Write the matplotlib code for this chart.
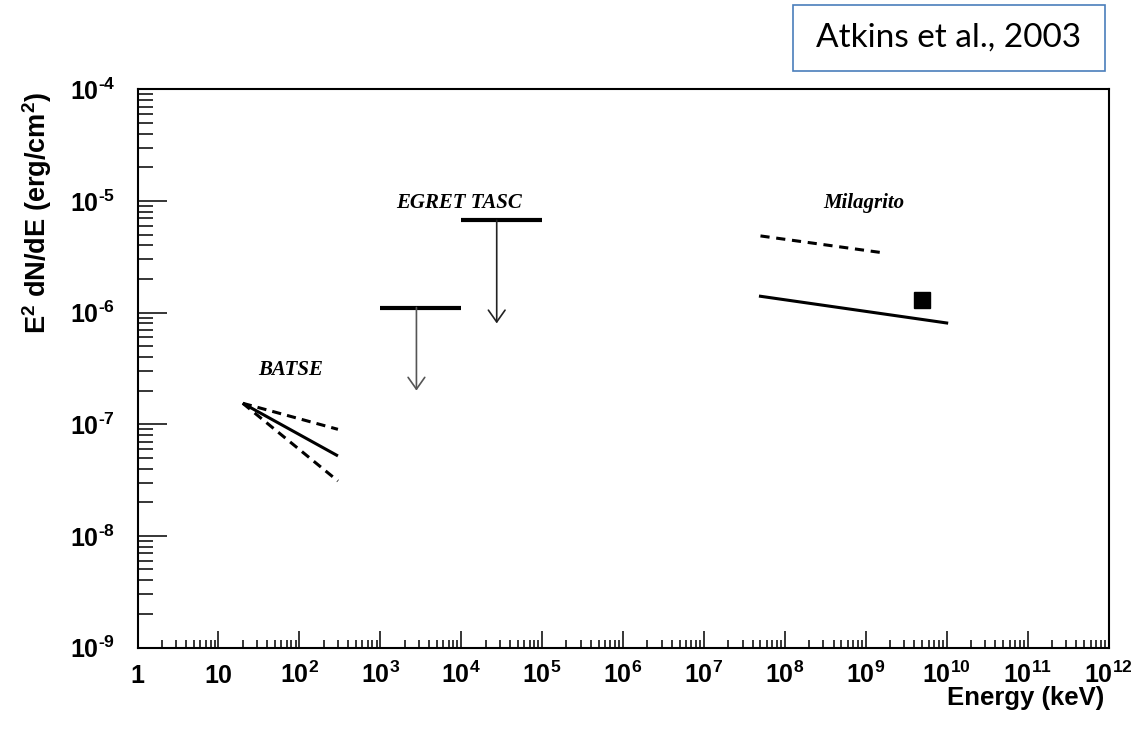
import matplotlib
matplotlib.use("Agg")
import matplotlib.pyplot as plt
from matplotlib.patches import Rectangle
from matplotlib.ticker import LogLocator, NullFormatter, FixedLocator, FixedFormatter

plt.rcParams['font.family'] = ['Liberation Sans', 'DejaVu Sans']
plt.rcParams['font.weight'] = 'bold'
plt.rcParams['mathtext.fontset'] = 'custom'
plt.rcParams['mathtext.rm'] = 'Liberation Sans:bold'
plt.rcParams['mathtext.it'] = 'Liberation Sans:bold:italic'
plt.rcParams['mathtext.bf'] = 'Liberation Sans:bold'
plt.rcParams['mathtext.default'] = 'rm'

# ---------------- data ----------------
batse_E = [20, 300]
batse_best = [1.54e-7, 5.2e-8]
batse_upper = [1.54e-7, 9.0e-8]
batse_lower = [1.54e-7, 3.1e-8]

egret_Emin = [1e3, 1e4]
egret_Emax = [1e4, 1e5]
egret_limit = [1.11e-6, 6.7e-6]
egret_arrow_E = [2.8e3, 2.75e4]
egret_arrow_end = [2.0e-7, 8.0e-7]

milagrito_E_dashed = [5.0e7, 1.69e9]
milagrito_dashed = [4.86e-6, 3.42e-6]
milagrito_E_solid = [5.0e7, 1.0e10]
milagrito_solid = [1.40e-6, 8.07e-7]
milagrito_point_E = [5.0e9]
milagrito_point = [1.29e-6]

x_exponents = list(range(0, 13))
x_ticklabels = ['1', '10'] + ['$10^{%d}$' % k for k in range(2, 13)]
y_exponents = list(range(-9, -3))
y_ticklabels = [r'$10^{\text{-}%d}$' % (-k) for k in y_exponents]

# ---------------- figure ----------------
W, H = 1132, 731
fig = plt.figure(figsize=(W / 100, H / 100), dpi=100)
ax = fig.add_axes([137.5 / W, 1 - 647.5 / H, (1108.5 - 137.5) / W, (647.5 - 89.3) / H])
ax.set_xscale('log')
ax.set_yscale('log')
ax.set_xlim(1, 1e12)
ax.set_ylim(1e-9, 1e-4)

for s in ax.spines.values():
    s.set_linewidth(1.5)

ax.xaxis.set_major_locator(FixedLocator([10.0 ** k for k in x_exponents]))
ax.xaxis.set_major_formatter(FixedFormatter(x_ticklabels))
ax.yaxis.set_major_locator(FixedLocator([10.0 ** k for k in y_exponents]))
ax.yaxis.set_major_formatter(FixedFormatter(y_ticklabels))
ax.xaxis.set_minor_locator(LogLocator(base=10, subs=range(2, 10), numticks=100))
ax.yaxis.set_minor_locator(LogLocator(base=10, subs=range(2, 10), numticks=100))
ax.xaxis.set_minor_formatter(NullFormatter())
ax.yaxis.set_minor_formatter(NullFormatter())

ax.tick_params(axis='x', which='major', direction='in', length=12, width=1.1,
               labelsize=18, pad=25.8, top=False)
ax.tick_params(axis='x', which='minor', direction='in', length=5.5, width=1.1, top=False)
ax.tick_params(axis='y', which='major', direction='in', length=21, width=1.1,
               labelsize=18, pad=16, right=False)
ax.tick_params(axis='y', which='minor', direction='in', length=10.8, width=1.1, right=False)

for t in ax.xaxis.get_major_ticks():
    t.label1.set_verticalalignment('baseline')

# BATSE
ax.plot(batse_E, batse_best, color='black', lw=2.2, solid_capstyle='butt')
ax.plot(batse_E, batse_upper, color='black', lw=2.2, dashes=(3, 2))
ax.plot(batse_E, batse_lower, color='black', lw=2.2, dashes=(3, 2))

# EGRET TASC upper limits
ax.hlines(egret_limit, egret_Emin, egret_Emax, colors='black', lw=3.0)
arrow_colors = ['#555555', '#222222']
for xe, y0, y1, c in zip(egret_arrow_E, egret_limit, egret_arrow_end, arrow_colors):
    ax.annotate('', xy=(xe, y1), xytext=(xe, y0),
                arrowprops=dict(arrowstyle='->,head_length=0.85,head_width=0.6',
                                lw=1.2, color=c, shrinkA=0, shrinkB=0))

# Milagrito
ax.plot(milagrito_E_dashed, milagrito_dashed, color='black', lw=2.2, dashes=(3, 2.2))
ax.plot(milagrito_E_solid, milagrito_solid, color='black', lw=2.2)
ax.plot(milagrito_point_E, milagrito_point, 's', color='black', markersize=11)

label_font = dict(family='Liberation Serif', style='italic', weight='bold', fontsize=15,
                  ha='center', va='center')
ax.text(78, 3.04e-7, 'BATSE', **label_font)
ax.text(9.3e3, 9.5e-6, 'EGRET TASC', **label_font)
ax.text(9.6e8, 9.5e-6, 'Milagrito', **label_font)

# axis titles (ROOT style)
fig.text(1104 / W, 1 - 698 / H, 'Energy (keV)', ha='right', va='center', fontsize=18.5)
fig.text(37 / W, 1 - 92 / H, r'E$^{2}$ dN/dE (erg/cm$^{2}$)', rotation=90,
         ha='center', va='top', fontsize=19.5)

# citation box
fig.patches.append(Rectangle((793 / W, 1 - 71 / H), (1105 - 793) / W, (71 - 5) / H,
                             transform=fig.transFigure, facecolor='white',
                             edgecolor='#4a7ebb', lw=1.2))
fig.text(949 / W, 1 - 38 / H, 'Atkins et al., 2003', ha='center', va='center',
         fontsize=24, family=['Lato', 'DejaVu Sans'], weight='normal')

fig.savefig('out.png', dpi=100)
